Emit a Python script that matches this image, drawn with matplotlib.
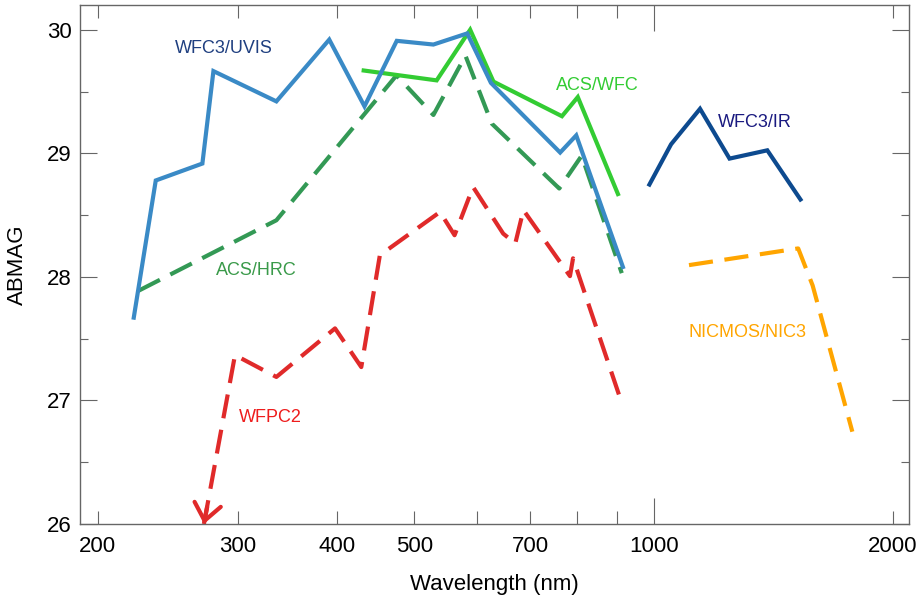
import matplotlib
matplotlib.use("Agg")
import matplotlib.pyplot as plt
from matplotlib.ticker import FixedLocator, FixedFormatter, NullFormatter

plt.rcParams['font.family'] = ['Liberation Sans', 'DejaVu Sans']

# ---- data (wavelength nm, ABMAG) ----
uvis_wl = [222, 236.6, 270.8, 279.6, 335.5, 391, 433, 475.4, 528.6, 583, 624.4, 763, 799.4, 915]
uvis_mag = [27.67, 28.78, 28.917, 29.665, 29.42, 29.92, 29.38, 29.91, 29.88, 29.97, 29.57, 29.006, 29.145, 28.08]

wfc_wl = [432, 533.6, 588, 629, 767, 803, 902]
wfc_mag = [29.67, 29.59, 30.0, 29.58, 29.30, 29.455, 28.67]

hrc_wl = [225, 335.5, 475, 528.6, 580, 626, 761, 812, 912]
hrc_mag = [27.887, 28.458, 29.63, 29.31, 29.79, 29.24, 28.715, 28.98, 28.03]

wfpc2_wl = [272, 297.6, 335.5, 397.6, 429, 452.7, 538.8, 562, 593, 647, 670, 686, 785, 792, 907]
wfpc2_mag = [26.0, 27.367, 27.19, 27.583, 27.27, 28.175, 28.525, 28.337, 28.727, 28.35, 28.27, 28.54, 28.006, 28.15, 27.025]

ir_wl = [988, 1052, 1144, 1246, 1390, 1530]
ir_mag = [28.747, 29.073, 29.36, 28.957, 29.024, 28.626]

nic3_wl = [1108, 1520, 1585, 1778]
nic3_mag = [28.095, 28.23, 27.93, 26.747]

labels = ["WFC3/UVIS", "ACS/HRC", "ACS/WFC", "WFC3/IR", "NICMOS/NIC3", "WFPC2"]
label_pos = [(288.4, 29.85), (316.4, 28.054), (848.8, 29.55), (1340, 29.25), (1314, 27.553), (329.4, 26.858)]
label_colors = ["#1f3f80", "#3a9a4a", "#33cc33", "#1a1a80", "#ffa500", "#ee1c1c"]

xminor_ticks = [200, 300, 400, 500, 600, 700, 800, 900, 2000]
xminor_labels = ["200", "300", "400", "500", "", "700", "", "", "2000"]
xmajor_ticks = [1000]
xmajor_labels = ["1000"]
ymajor_ticks = [26, 27, 28, 29, 30]
yminor_ticks = [26.5, 27.5, 28.5, 29.5]

# ---- figure ----
fig = plt.figure(figsize=(9.19, 6.03), dpi=100)
ax = fig.add_axes([80/919, 1-524/603, (909-80)/919, (524-5)/603])

lw = 3.0
dash = (5.8, 2.8)
ax.plot(wfpc2_wl, wfpc2_mag, color="#e02a2a", lw=lw, dashes=dash)
ax.plot(hrc_wl, hrc_mag, color="#339955", lw=lw, dashes=dash)
ax.plot(wfc_wl, wfc_mag, color="#33cc33", lw=lw, solid_joinstyle='miter')
ax.plot(uvis_wl, uvis_mag, color="#3a8ac6", lw=lw, solid_joinstyle='miter')
ax.plot(ir_wl, ir_mag, color="#0d4a8f", lw=lw, solid_joinstyle='miter')
ax.plot(nic3_wl, nic3_mag, color="#ffa500", lw=lw, dashes=dash)

# arrow marking the WFPC2 point below the range
tip = (wfpc2_wl[0], wfpc2_mag[0])
frac = 0.1
tail = (wfpc2_wl[0] + frac * (wfpc2_wl[1] - wfpc2_wl[0]), wfpc2_mag[0] + frac * (wfpc2_mag[1] - wfpc2_mag[0]))
ax.annotate("", xy=tip, xytext=tail,
            arrowprops=dict(arrowstyle="->,head_length=0.75,head_width=0.6",
                            color="#e02a2a", lw=lw, mutation_scale=16,
                            shrinkA=0, shrinkB=0),
            annotation_clip=False)

for t, (x, y), c in zip(labels, label_pos, label_colors):
    ax.text(x, y, t, color=c, fontsize=13, ha="center", va="center")

ax.set_xscale("log")
ax.set_xlim(190, 2095)
ax.set_ylim(26.0, 30.2)

ax.xaxis.set_major_locator(FixedLocator(xmajor_ticks))
ax.xaxis.set_major_formatter(FixedFormatter(xmajor_labels))
ax.xaxis.set_minor_locator(FixedLocator(xminor_ticks))
ax.xaxis.set_minor_formatter(FixedFormatter(xminor_labels))
ax.yaxis.set_major_locator(FixedLocator(ymajor_ticks))
ax.yaxis.set_minor_locator(FixedLocator(yminor_ticks))
ax.yaxis.set_minor_formatter(NullFormatter())

tc = "#666666"
ax.tick_params(axis="x", which="major", direction="in", length=19, width=0.8, color=tc,
               top=True, labelsize=16, pad=9)
ax.tick_params(axis="x", which="minor", direction="in", length=9.5, width=0.8, color=tc,
               top=True, labelsize=16, pad=9)
ax.tick_params(axis="y", which="major", direction="in", length=12, width=0.8, color=tc,
               right=True, labelsize=16, pad=6)
ax.tick_params(axis="y", which="minor", direction="in", length=6, width=0.8, color=tc,
               right=True)
for s in ax.spines.values():
    s.set_color(tc)
    s.set_linewidth(1.0)

ax.set_xlabel("Wavelength (nm)", fontsize=16, labelpad=12)
ax.set_ylabel("ABMAG", fontsize=16, labelpad=14)

fig.savefig("out.png", dpi=100)
